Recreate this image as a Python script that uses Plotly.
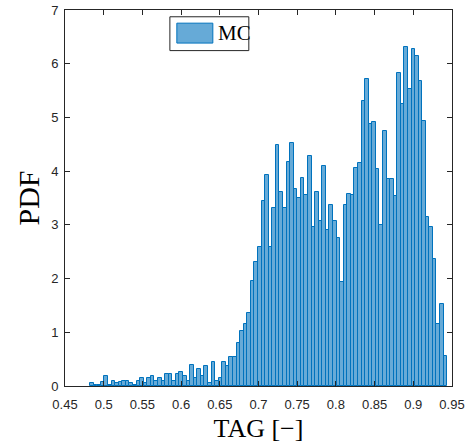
import numpy as np
import plotly.graph_objects as go

# Histogram of TAG samples (Monte Carlo), normalised to a PDF
tag_min = 0.4825
tag_max = 0.9438
n_bins = 100
pdf_values = [
    0.06, 0.01, 0.01, 0.07, 0.19, 0.02, 0.09, 0.06, 0.07, 0.09,
    0.09, 0.06, 0.02, 0.09, 0.14, 0.06, 0.15, 0.19, 0.10, 0.14,
    0.09, 0.22, 0.22, 0.09, 0.22, 0.27, 0.19, 0.09, 0.39, 0.14,
    0.32, 0.19, 0.37, 0.06, 0.44, 0.09, 0.14, 0.44, 0.37, 0.54,
    0.54, 0.80, 1.02, 1.15, 1.35, 1.96, 2.31, 2.59, 3.45, 3.93,
    2.59, 3.32, 4.48, 3.62, 3.32, 4.17, 4.53, 3.67, 3.50, 3.88,
    3.55, 4.29, 2.96, 3.62, 3.07, 4.10, 2.91, 3.37, 3.07, 2.75,
    1.93, 3.37, 3.58, 3.55, 4.05, 4.16, 5.30, 5.72, 4.87, 4.92,
    4.04, 3.00, 4.75, 3.85, 3.86, 3.53, 5.83, 5.25, 6.31, 5.53,
    6.27, 6.14, 5.67, 4.94, 3.14, 2.96, 2.37, 1.15, 1.52, 0.56,
]
x_ticks = [0.45, 0.5, 0.55, 0.6, 0.65, 0.7, 0.75, 0.8, 0.85, 0.9, 0.95]
x_tick_labels = ["0.45", "0.5", "0.55", "0.6", "0.65", "0.7", "0.75",
                 "0.8", "0.85", "0.9", "0.95"]
y_ticks = [0, 1, 2, 3, 4, 5, 6, 7]
series_name = "MC"

edges = np.linspace(tag_min, tag_max, n_bins + 1)
bin_width = edges[1] - edges[0]
centers = (edges[:-1] + edges[1:]) / 2

face = "rgb(102,170,215)"
edge = "rgb(0,114,189)"
axis_col = "#262626"

fig = go.Figure()
fig.add_trace(go.Bar(
    x=centers, y=pdf_values, width=bin_width, name=series_name,
    marker=dict(color=face, line=dict(color=edge, width=1)),
    showlegend=False,
))

axis_common = dict(
    showline=True, linecolor=axis_col, linewidth=1, mirror="allticks",
    ticks="inside", ticklen=5, tickwidth=1, tickcolor=axis_col,
    showgrid=False, zeroline=False, automargin=False,
    tickfont=dict(family="Liberation Sans, Arial, sans-serif", size=13,
                  color=axis_col),
)

fig.update_xaxes(
    range=[0.45, 0.95], tickvals=x_ticks, ticktext=x_tick_labels,
    ticklabelstandoff=6,
    title=dict(text="TAG [\u2212]", standoff=8,
               font=dict(family="Liberation Serif, Times New Roman, serif",
                         size=26, color="black")),
    **axis_common,
)
fig.update_yaxes(
    range=[0, 7], tickvals=y_ticks,
    ticklabelstandoff=3,
    title=dict(text="PDF", standoff=2,
               font=dict(family="Liberation Serif, Times New Roman, serif",
                         size=30, color="black")),
    **axis_common,
)

# legend box with a filled swatch and label
fig.add_shape(type="rect", xref="paper", yref="paper",
              x0=0.271, x1=0.475, y0=0.892, y1=0.982,
              line=dict(color=axis_col, width=1), fillcolor="white")
fig.add_shape(type="rect", xref="paper", yref="paper",
              x0=0.289, x1=0.382, y0=0.912, y1=0.965,
              line=dict(color=edge, width=1), fillcolor=face)
fig.add_annotation(xref="paper", yref="paper", x=0.389, y=0.939,
                   xanchor="left", yanchor="middle", showarrow=False,
                   text=series_name,
                   font=dict(family="Liberation Serif, Times New Roman, serif",
                             size=21, color="black"))

fig.update_layout(
    width=470, height=446,
    margin=dict(l=65, r=18, t=10, b=60),
    paper_bgcolor="white", plot_bgcolor="white",
    bargap=0,
)

fig.write_html("out.html")
